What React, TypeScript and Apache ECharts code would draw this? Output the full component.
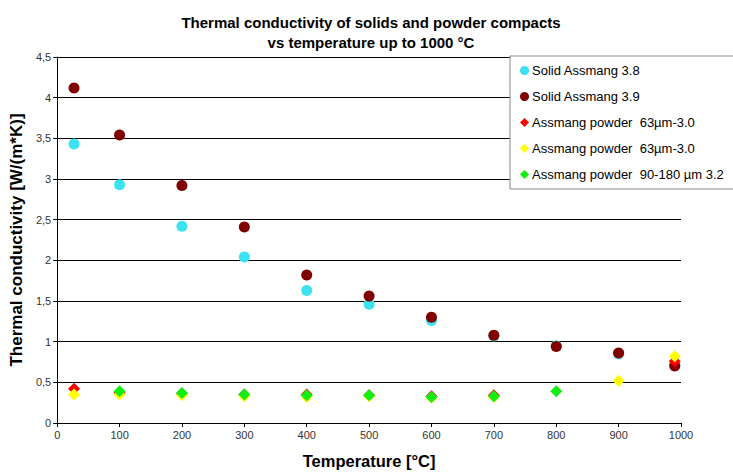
import React, { useEffect, useRef } from "react";
import * as echarts from "echarts";

const seriesLabels = [
  "Solid Assmang 3.8",
  "Solid Assmang 3.9",
  "Assmang powder  63µm-3.0",
  "Assmang powder  63µm-3.0",
  "Assmang powder  90-180 µm 3.2",
];
const seriesColors = ["#3CE2F0", "#800000", "#FF0000", "#FFFF00", "#11EE11"];
const seriesSymbols = ["circle", "circle", "diamond", "diamond", "diamond"];

const solid38: [number, number][] = [
  [27, 3.43], [100, 2.93], [200, 2.42], [300, 2.04], [400, 1.63], [500, 1.46],
  [600, 1.26], [700, 1.07], [800, 0.95], [900, 0.85], [990, 0.72],
];
const solid39: [number, number][] = [
  [27, 4.12], [100, 3.54], [200, 2.92], [300, 2.41], [400, 1.82], [500, 1.56],
  [600, 1.3], [700, 1.08], [800, 0.94], [900, 0.86], [990, 0.7],
];
const powderRed: [number, number][] = [
  [27, 0.42], [100, 0.37], [200, 0.36], [300, 0.35], [400, 0.35], [500, 0.34],
  [600, 0.33], [700, 0.34], [990, 0.76],
];
const powderYellow: [number, number][] = [
  [27, 0.35], [100, 0.35], [200, 0.34], [300, 0.33], [400, 0.32], [500, 0.33],
  [600, 0.31], [700, 0.32], [900, 0.52], [990, 0.82],
];
const powderGreen: [number, number][] = [
  [100, 0.39], [200, 0.37], [300, 0.35], [400, 0.34], [500, 0.34],
  [600, 0.32], [700, 0.33], [800, 0.39],
];
const allData = [solid38, solid39, powderRed, powderYellow, powderGreen];

export default function App() {
  const ref = useRef<HTMLDivElement>(null);
  useEffect(() => {
    if (!ref.current) return;
    const chart = echarts.init(ref.current, undefined, { renderer: "svg" });
    const font = "'Liberation Sans', Arial, sans-serif";
    chart.setOption({
      animation: false,
      backgroundColor: "#ffffff",
      textStyle: { fontFamily: font },
      title: {
        text: "Thermal conductivity of solids and powder compacts\nvs temperature up to 1000 °C",
        left: 366,
        top: 7,
        textAlign: "center",
        textStyle: { fontFamily: font, fontSize: 15, fontWeight: "bold", color: "#000", lineHeight: 20 },
      },
      grid: { left: 55, right: 52, top: 57, bottom: 49 },
      legend: {
        orient: "vertical",
        left: 510,
        top: 56,
        data: allData.map((_, i) => "s" + i),
        formatter: (n: string) => seriesLabels[Number(n.slice(1))],
        itemWidth: 9,
        itemHeight: 9,
        itemGap: 13,
        padding: [8, 13, 8, 10],
        backgroundColor: "#ffffff",
        borderColor: "#888888",
        borderWidth: 1,
        textStyle: { fontFamily: font, fontSize: 13, color: "#000", padding: [0, 0, 0, -2] },
      },
      xAxis: {
        type: "value",
        min: 0,
        max: 1000,
        interval: 100,
        name: "Temperature [°C]",
        nameLocation: "middle",
        nameGap: 29,
        nameTextStyle: { fontFamily: font, fontSize: 16.5, fontWeight: "bold", color: "#000" },
        axisLine: { show: true, lineStyle: { color: "#000" } },
        axisTick: { show: true, length: 4, lineStyle: { color: "#000" } },
        axisLabel: { fontSize: 11, color: "#333", margin: 6, formatter: (v: number) => String(v) },
        splitLine: { show: false },
      },
      yAxis: {
        type: "value",
        min: 0,
        max: 4.5,
        interval: 0.5,
        name: "Thermal conductivity [W/(m*K)]",
        nameLocation: "middle",
        nameGap: 29,
        nameTextStyle: { fontFamily: font, fontSize: 17, fontWeight: "bold", color: "#000" },
        axisLine: { show: true, lineStyle: { color: "#000" } },
        axisTick: { show: true, length: 4, lineStyle: { color: "#000" } },
        axisLabel: {
          fontSize: 11,
          color: "#333",
          margin: 6,
          formatter: (v: number) => String(v).replace(".", ","),
        },
        splitLine: { show: true, lineStyle: { color: "#000", width: 1 } },
      },
      series: allData.map((d, i) => ({
        name: "s" + i,
        type: "scatter",
        data: d,
        symbol: seriesSymbols[i],
        symbolSize: i < 2 ? 11 : 12,
        itemStyle: { color: seriesColors[i], opacity: 1 },
        z: 2 + i,
      })),
    });
    return () => chart.dispose();
  }, []);
  return <div ref={ref} style={{ width: 733, height: 474, position: "absolute", left: 0, top: 0 }} />;
}
